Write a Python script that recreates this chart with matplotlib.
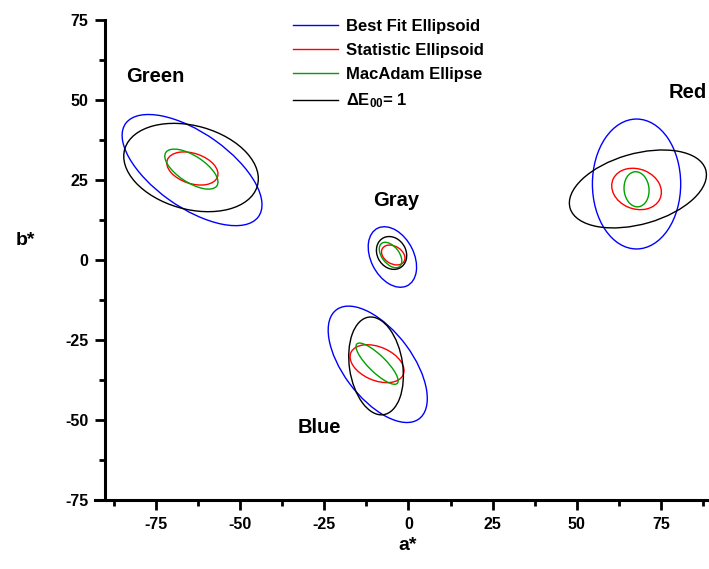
import matplotlib
matplotlib.use("Agg")
import matplotlib.pyplot as plt
from matplotlib.patches import Ellipse
from matplotlib.lines import Line2D
from matplotlib.ticker import MultipleLocator

plt.rcParams['font.family'] = ['Liberation Sans', 'DejaVu Sans']
plt.rcParams['font.weight'] = 'bold'
plt.rcParams['axes.unicode_minus'] = False
plt.rcParams['mathtext.fontset'] = 'custom'
plt.rcParams['mathtext.rm'] = 'Liberation Sans:bold'
plt.rcParams['mathtext.bf'] = 'Liberation Sans:bold'
plt.rcParams['mathtext.default'] = 'rm'

# colour centres: Green, Red, Gray, Blue
names = ['Green', 'Red', 'Gray', 'Blue']
label_a = [-75.2, 82.9, -3.7, -26.5]
label_b = [57.5, 52.2, 18.75, -52.2]

# best fit ellipsoid (blue)
fit_a = [-64.2, 67.7, -4.75, -9.1]
fit_b = [28.1, 23.75, 0.94, -32.6]
fit_major = [24.5, 20.3, 10.0, 21.0]
fit_minor = [11.5, 13.1, 6.4, 10.3]
fit_angle = [-37, 90, -65, -55]

# statistic ellipsoid (red)
stat_a = [-64.1, 67.7, -4.5, -9.3]
stat_b = [28.6, 22.2, 1.56, -32.4]
stat_major = [7.9, 7.6, 3.8, 8.5]
stat_minor = [4.7, 6.2, 2.7, 5.2]
stat_angle = [-20, -25, -35, -25]

# macadam ellipse (green)
mac_a = [-64.4, 67.7, -5.3, -9.3]
mac_b = [28.4, 22.1, 1.56, -32.4]
mac_major = [9.2, 5.5, 4.5, 8.6]
mac_minor = [4.1, 3.7, 2.6, 2.6]
mac_angle = [-35, 95, -55, -46]

# delta E00 = 1 (black)
de_a = [-64.5, 68.1, -5.0, -9.6]
de_b = [28.9, 22.2, 2.2, -33.1]
de_major = [20.5, 21.0, 5.3, 15.4]
de_minor = [13.0, 11.0, 4.3, 7.9]
de_angle = [-17, 17, -65, 98]

groups = [
    ('Best Fit Ellipsoid', '#0000ff', fit_a, fit_b, fit_major, fit_minor, fit_angle),
    ('Statistic Ellipsoid', '#ff0000', stat_a, stat_b, stat_major, stat_minor, stat_angle),
    ('MacAdam Ellipse', '#00a000', mac_a, mac_b, mac_major, mac_minor, mac_angle),
    ('$\\Delta$E$_{00}$= 1', '#000000', de_a, de_b, de_major, de_minor, de_angle),
]

fig = plt.figure(figsize=(7.09, 5.69), dpi=100)
ax = fig.add_axes([95/709, 69/569, 614/709, 480/569])

handles = []
for label, col, ca, cb, ma, mi, ang in groups:
    for i in range(len(ca)):
        e = Ellipse((ca[i], cb[i]), 2*ma[i], 2*mi[i], angle=ang[i],
                    fill=False, edgecolor=col, lw=1.0)
        ax.add_patch(e)
    handles.append(Line2D([], [], color=col, lw=1.0, label=label))

for i in range(len(names)):
    ax.text(label_a[i], label_b[i], names[i], fontsize=14.5, fontweight='bold',
            ha='center', va='center')

ax.set_xlim(-93.0, 89.2)
ax.set_ylim(-75, 75)
ax.spines['top'].set_visible(False)
ax.spines['right'].set_visible(False)
ax.spines['left'].set_position(('data', -90))
for s in ['left', 'bottom']:
    ax.spines[s].set_linewidth(2.2)

ax.xaxis.set_major_locator(MultipleLocator(25))
ax.xaxis.set_minor_locator(MultipleLocator(12.5))
ax.yaxis.set_major_locator(MultipleLocator(25))
ax.yaxis.set_minor_locator(MultipleLocator(12.5))
ax.tick_params(which='major', direction='out', length=7, width=2.0, labelsize=11.5, pad=5)
ax.tick_params(which='minor', direction='out', length=4, width=2.0)
for t in ax.get_xticklabels() + ax.get_yticklabels():
    t.set_fontweight('bold')

fig.text(408/709, 1 - 545/569, 'a*', fontsize=14, fontweight='bold', ha='center', va='center')
fig.text(25/709, 1 - 240/569, 'b*', fontsize=14, fontweight='bold', ha='center', va='center')

leg = ax.legend(handles=handles, loc='upper left', bbox_to_anchor=(293/709, 1 - 19/569),
                bbox_transform=fig.transFigure, frameon=False, fontsize=12,
                handlelength=2.7, handletextpad=0.45, labelspacing=0.55,
                borderpad=0, borderaxespad=0)
for t in leg.get_texts():
    t.set_fontweight('bold')

fig.savefig('out.png', dpi=100)
